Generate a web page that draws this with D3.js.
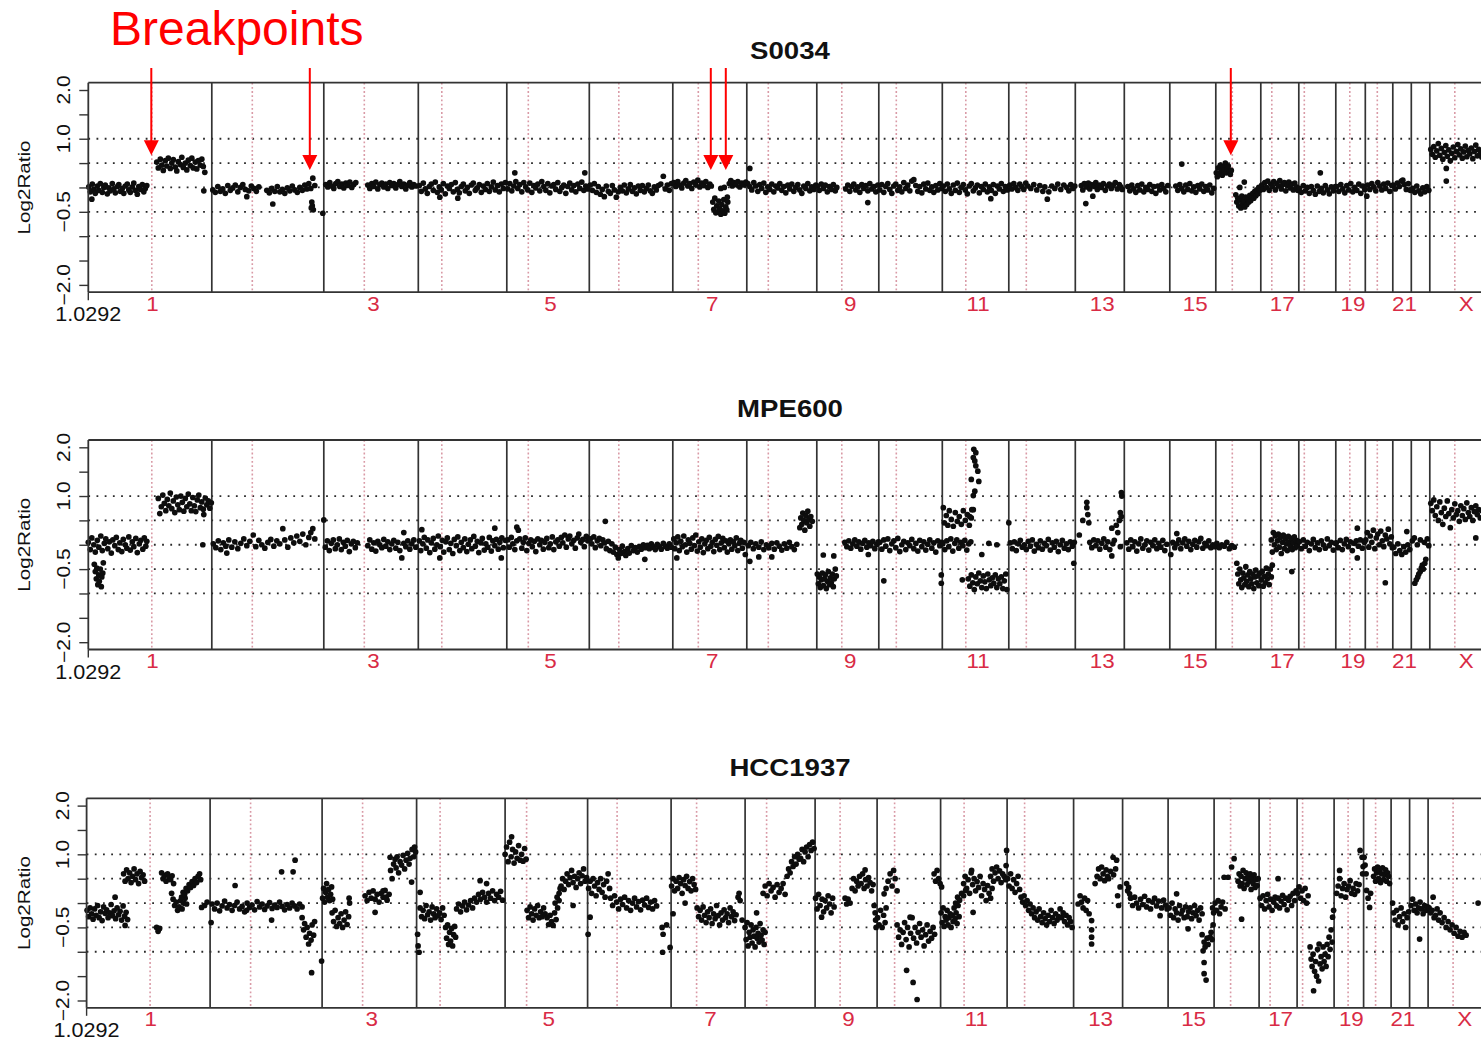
<!DOCTYPE html>
<html>
<head>
<meta charset="utf-8">
<script src="https://cdn.jsdelivr.net/npm/d3@7"></script>
<style>
  body { margin: 0; background: #fff; overflow: hidden; }
  svg { display: block; }
  text { font-family: "Liberation Sans", Arial, Helvetica, sans-serif; }
</style>
</head>
<body>
<svg id="chart" width="1481" height="1041"></svg>
<script>
// ---- genome layout -------------------------------------------------------
const CHROMOSOMES = ["1","2","3","4","5","6","7","8","9","10","11","12","13","14","15","16","17","18","19","20","21","22","X"];
// plotted chromosome widths (array coordinate units, ~Mb)
const CHROM_LENGTHS = [247,224,189,177,165,167,148,140,124,127,133,133,98,91,92,90,76,74,59,55,37,37,136];
// centromere offset inside each chromosome (null = acrocentric, sits on the boundary)
const CENTROMERES = [127,81,81,47,43,59,51,43,50,35,47,35,null,null,null,33,22,11,28,24,null,null,50];
const CHROM_LABELS = ["1","3","5","7","9","11","13","15","17","19","21","X"];

const Y_TICKS = [2, 1.5, 1, 0.5, 0, -0.5, -1, -1.5, -2];
const Y_TICK_LABELS = [[2, "2.0"], [1, "1.0"], [-0.5, "\u22120.5"], [-2, "\u22122.0"]];
const GRID_LEVELS = [1, 0.5, 0, -0.5, -1];
const X_START_LABEL = "1.0292";

const SAMPLES = ["S0034", "MPE600", "HCC1937"];

// ---- probe log2 ratios: one list per chromosome, [position in chromosome, log2 ratio]
const probesS0034 = [
  [[1,.01],[4,-.09],[8,.07],[11,-.04],[14,-.12],[18,.03],[21,-.06],[24,.08],[28,-.1],[31,0],[34,.05],[38,-.13],[41,-.01],[44,-.07],[48,.08],[51,-.03],[54,-.11],[58,.02],[61,.06],[64,-.08],[68,-.02],[71,-.12],[74,.03],[78,.07],[81,-.05],[84,-.1],[88,.01],[91,.09],[94,-.06],[98,-.14],[101,.02],[104,-.04],[108,.06],[111,-.09],[114,-.02],[117,.04],[7,-.24],[137,.52],[140,.4],[144,.58],[147,.46],[150,.35],[154,.55],[157,.44],[160,.6],[164,.39],[167,.5],[170,.57],[174,.42],[177,.34],[180,.53],[184,.47],[187,.62],[190,.41],[194,.5],[197,.36],[200,.56],[204,.45],[207,.6],[210,.4],[214,.52],[217,.38],[220,.55],[224,.46],[227,.58],[230,.43],[233,.31],[231,-.07]],
  [[2,-.05],[7,-.1],[12,.02],[17,-.08],[22,-.03],[27,-.12],[32,.04],[37,-.06],[42,-.01],[47,.05],[52,-.09],[57,0],[62,.06],[67,-.04],[74,-.07],[79,.03],[84,-.02],[89,-.08],[94,.01],[70,-.19],[110,-.06],[115,-.11],[120,-.02],[122,-.34],[126,-.08],[131,.02],[136,-.09],[141,-.04],[146,-.12],[151,-.01],[156,-.07],[161,.03],[166,-.05],[171,-.1],[176,0],[181,-.06],[186,.05],[190,-.03],[194,.08],[198,-.02],[200,-.3],[201,-.38],[203,-.46],[199,-.42],[202,.19],[206,.04],[222,-.53]],
  [[4,.06],[8,.01],[12,.1],[16,.03],[20,-.02],[24,.08],[28,.12],[32,.02],[36,.07],[40,-.01],[44,.09],[48,.04],[52,.11],[56,0],[60,.06],[64,.1],[88,.05],[92,-.02],[96,.08],[100,.02],[104,.11],[108,-.03],[112,.06],[116,.09],[120,.01],[124,.07],[128,-.02],[132,.1],[136,.04],[140,.08],[144,-.01],[148,.06],[152,.12],[156,.02],[160,.07],[164,-.03],[168,.05],[172,.1],[176,.01],[180,.06],[184,.03]],
  [[2,.04],[6,-.08],[10,.09],[14,-.03],[18,-.12],[22,.02],[26,.07],[30,-.06],[34,.11],[38,-.1],[42,.01],[46,-.05],[50,.08],[54,-.13],[58,.03],[62,-.02],[66,.06],[70,-.09],[74,.1],[78,-.04],[82,-.11],[86,.02],[90,.07],[94,-.07],[98,0],[102,-.12],[106,.05],[110,.09],[114,-.06],[118,-.01],[122,.06],[126,-.1],[130,.03],[134,-.04],[138,.08],[142,-.08],[146,.01],[150,.11],[154,-.05],[158,.04],[162,-.09],[166,.07],[170,-.02],[174,.1],[43,-.2],[79,-.22]],
  [[2,-.03],[6,.08],[10,-.07],[14,.03],[16,.3],[18,.12],[22,-.02],[26,.06],[30,-.09],[34,.1],[38,.01],[42,-.05],[46,.09],[50,-.1],[54,.04],[58,-.01],[62,.07],[66,-.07],[70,.12],[74,.02],[78,-.06],[82,.08],[86,-.11],[90,.03],[94,.06],[98,-.04],[102,.1],[106,-.08],[110,0],[114,.05],[118,-.12],[122,.02],[126,.09],[130,-.05],[134,.04],[138,-.09],[142,.07],[146,-.02],[150,.11],[154,-.06],[156,.3],[158,.03],[162,-.03]],
  [[2,.05],[6,-.06],[10,.08],[14,-.1],[18,.02],[22,-.14],[26,-.04],[30,-.19],[34,.03],[38,-.08],[42,-.12],[46,.04],[50,-.05],[54,-.2],[58,-.09],[62,0],[66,-.07],[70,.05],[74,-.11],[78,-.03],[82,.06],[86,-.08],[90,-.01],[94,-.13],[98,.03],[102,-.06],[106,.04],[110,-.09],[114,-.02],[118,.05],[122,-.07],[126,-.12],[130,.01],[134,-.05],[138,.04],[143,.07],[148,.23],[152,-.03],[156,.05],[160,-.06],[164,.08]],
  [[2,.1],[6,.02],[10,.12],[14,.05],[18,-.01],[22,.09],[26,.14],[30,.03],[34,.08],[38,-.02],[42,.11],[46,.06],[50,.15],[54,.01],[58,.09],[62,.04],[66,.12],[70,0],[74,.07],[77,.03],[80,-.3],[82,-.45],[84,-.22],[86,-.52],[88,-.38],[90,-.5],[92,-.28],[94,-.44],[96,-.55],[98,-.35],[100,-.48],[102,-.25],[104,-.53],[106,-.4],[108,-.46],[110,-.3],[96,-.02],[103,0],[109,-.2],[113,.08],[116,.14],[119,.03],[122,.1],[126,.06],[130,.12],[134,.01],[138,.09],[142,.05],[146,.11]],
  [[2,.08],[6,.39],[6,.02],[10,-.05],[14,.1],[18,.03],[22,-.08],[26,.06],[30,-.02],[34,.09],[38,-.1],[42,.01],[46,-.04],[50,.07],[54,-.09],[58,.03],[62,-.01],[66,.08],[70,-.06],[74,.02],[78,-.11],[82,.05],[86,-.03],[90,.07],[94,-.08],[98,0],[102,.06],[106,-.05],[110,-.12],[114,.03],[118,-.02],[122,.08],[126,-.07],[130,.01],[134,-.04],[138,.05]],
  [[1,.03],[5,-.06],[9,.07],[13,-.02],[17,.05],[21,-.09],[25,.02],[29,-.04],[33,.06],[37,-.07],[40,0],[58,-.03],[62,.05],[66,-.08],[70,.02],[74,.07],[78,-.05],[82,.01],[86,-.1],[90,.06],[94,-.02],[98,.04],[102,-.31],[102,-.07],[106,.08],[110,-.03],[114,.02],[118,-.09],[122,.05]],
  [[2,-.05],[6,.06],[10,-.1],[14,.02],[18,.08],[22,-.04],[26,-.12],[30,.03],[34,.07],[38,-.06],[42,.01],[46,-.09],[50,.1],[54,-.02],[58,.05],[62,-.07],[66,.13],[70,.16],[74,.04],[78,-.08],[82,.02],[86,-.11],[90,.07],[94,-.03],[98,.09],[102,-.06],[106,.01],[110,-.1],[114,.04],[118,-.05],[122,.08],[126,-.02]],
  [[2,.03],[6,-.08],[10,.07],[14,-.03],[18,-.12],[22,.05],[26,-.06],[30,.09],[34,-.1],[38,0],[42,.06],[46,-.05],[50,-.13],[54,.03],[58,.08],[62,-.07],[66,-.01],[70,.05],[74,-.11],[78,.02],[82,-.04],[86,.07],[90,-.09],[94,.01],[97,-.23],[98,-.06],[102,.06],[106,-.12],[110,.03],[114,-.03],[118,.08],[122,-.08],[126,.02],[130,-.05]],
  [[2,.05],[6,-.03],[10,.08],[14,0],[18,-.06],[22,.07],[26,.02],[30,-.04],[34,.09],[38,.03],[44,-.02],[50,.06],[56,-.05],[62,.04],[68,-.08],[72,.01],[77,-.24],[80,-.09],[86,.03],[92,-.02],[98,.07],[104,-.04],[110,.05],[116,0],[120,-.07],[124,.06],[128,-.02],[132,.03]],
  [[12,.04],[15,-.05],[18,.08],[21,-.33],[23,.01],[26,.09],[29,-.03],[32,.06],[35,-.18],[38,.02],[41,.1],[44,-.04],[48,.05],[52,0],[56,.08],[60,-.06],[64,.03],[68,.07],[72,-.02],[76,.05],[80,.1],[84,-.03],[88,.06],[91,.01],[94,-.04]],
  [[7,.02],[11,-.07],[15,.05],[19,-.03],[23,-.1],[27,.04],[31,-.05],[35,.07],[39,-.09],[43,0],[47,-.04],[51,.06],[55,-.08],[59,.02],[63,-.12],[67,.03],[71,-.05],[75,.06],[79,-.02],[83,-.09],[87,.04]],
  [[12,.03],[16,-.06],[20,.06],[24,.48],[24,-.02],[28,-.09],[32,.05],[36,-.04],[40,.08],[44,-.07],[48,.01],[52,-.1],[56,.04],[60,-.03],[64,.07],[68,-.08],[72,.02],[76,-.05],[80,.05],[84,-.11],[88,-.02]],
  [[1,.3],[3,.22],[5,.4],[7,.28],[9,.46],[11,.34],[13,.25],[15,.42],[17,.36],[19,.5],[21,.3],[23,.38],[25,.44],[27,.32],[29,.27],[31,.35],[48,0],[57,.11],[40,-.15],[42,-.3],[44,-.22],[46,-.38],[48,-.26],[50,-.42],[52,-.18],[54,-.33],[56,-.28],[58,-.4],[60,-.2],[62,-.35],[64,-.24],[66,-.3],[68,-.16],[70,-.27],[72,-.2],[74,-.12],[76,-.22],[78,-.08],[80,-.17],[82,-.05],[84,-.13],[86,0],[88,-.06]],
  [[2,.05],[5,-.04],[8,.1],[11,0],[14,.13],[17,-.06],[20,.07],[23,.02],[26,.12],[29,-.05],[32,.08],[35,.03],[38,.14],[41,-.03],[44,.06],[47,.1],[50,-.07],[53,.04],[56,.11],[59,-.01],[62,.07],[65,-.05],[68,.09],[71,.01],[74,-.06]],
  [[1,-.02],[5,-.1],[9,.04],[13,-.07],[17,0],[21,-.12],[25,.02],[29,-.06],[33,-.14],[37,.03],[41,-.08],[43,.3],[45,-.02],[49,-.11],[53,.04],[57,-.05],[61,-.13],[65,.01],[69,-.07],[73,.02]],
  [[2,.02],[6,-.08],[10,.06],[14,-.03],[18,-.11],[22,.04],[26,-.05],[30,.08],[34,-.09],[38,0],[42,-.06],[46,.07],[50,-.12],[54,.03],[58,-.04]],
  [[3,-.18],[5,.05],[9,-.04],[13,.08],[17,.01],[21,-.07],[25,.1],[29,.03],[33,-.05],[37,.07],[41,-.02],[45,.09],[49,-.08],[53,.04]],
  [[1,.05],[5,-.03],[9,.09],[13,.02],[17,.13],[20,.15],[23,.06],[27,-.04],[31,.08],[35,-.06]],
  [[3,-.02],[7,-.1],[11,.03],[15,-.07],[19,-.13],[23,-.01],[27,-.09],[31,.02],[35,-.06]],
  [[2,.78],[5,.68],[8,.84],[11,.62],[14,.75],[17,.9],[20,.66],[23,.8],[26,.58],[29,.72],[32,.86],[33,.39],[33,.13],[35,.64],[38,.77],[41,.55],[44,.7],[47,.83],[50,.61],[53,.74],[56,.88],[59,.67],[62,.79],[65,.6],[68,.73],[71,.85],[74,.63],[77,.76],[80,.69],[83,.81],[86,.59],[89,.74],[92,.87],[95,.65],[98,.78],[101,.7],[104,.62],[108,.75]]
];

const probesMPE600 = [
  [[0,.05],[4,-.1],[7,.14],[11,0],[14,-.15],[18,.09],[21,-.05],[25,.18],[28,-.12],[32,.03],[35,.12],[39,-.08],[42,.06],[46,-.17],[49,.1],[53,-.02],[56,.15],[60,-.1],[63,.04],[67,-.14],[70,.11],[74,0],[77,-.07],[81,.16],[84,-.11],[88,.06],[91,-.04],[95,.13],[98,-.16],[102,.02],[105,.09],[109,-.09],[112,.14],[115,-.03],[117,.07],[12,-.4],[14,-.55],[16,-.7],[17,-.48],[19,-.82],[21,-.62],[22,-.75],[24,-.5],[26,-.86],[27,-.66],[29,-.58],[30,-.37],[140,.95],[143,.64],[146,.78],[149,1.02],[152,.85],[155,.7],[158,.93],[161,.8],[164,1.06],[167,.74],[170,.9],[173,.66],[176,.98],[179,.82],[182,.72],[185,1],[188,.87],[191,.69],[194,.95],[197,.78],[200,1.04],[203,.84],[206,.7],[209,.97],[212,.8],[215,.68],[218,.92],[221,1.02],[224,.76],[227,.88],[230,.73],[231,.62],[234,.96],[237,.82],[240,.9],[243,.75],[246,.86],[229,0]],
  [[3,.02],[8,-.06],[13,.08],[18,-.1],[23,.04],[28,-.03],[30,-.17],[34,.1],[40,-.05],[46,.06],[52,-.08],[58,.03],[64,.12],[70,-.02],[76,.07],[83,.2],[88,-.04],[94,.09],[100,0],[106,-.07],[112,.05],[118,.11],[124,-.03],[130,.08],[136,.02],[142,.33],[146,.1],[152,-.05],[158,.14],[164,.04],[170,.18],[176,.07],[182,.22],[188,0],[194,.15],[198,.25],[202,.33],[206,.12]],
  [[0,.51],[3,-.05],[7,.08],[11,-.12],[15,.03],[19,.1],[23,-.08],[27,0],[31,.12],[35,-.1],[39,.05],[43,-.03],[47,.09],[51,-.14],[55,.02],[59,.07],[63,-.06],[67,.04],[88,-.02],[92,.1],[96,-.09],[100,.04],[104,-.13],[108,.07],[112,0],[116,-.06],[120,.11],[124,-.03],[128,.06],[132,-.1],[136,.02],[140,.09],[144,-.07],[148,.05],[152,-.12],[156,-.27],[160,.25],[160,.03],[164,-.04],[168,.08],[172,-.09],[176,.02],[180,.1],[184,-.05]],
  [[2,.08],[5,-.12],[7,.31],[9,.02],[12,.15],[16,-.07],[19,.1],[23,-.16],[26,.04],[30,.13],[33,-.09],[37,0],[40,.18],[43,-.27],[44,-.04],[48,.09],[51,-.15],[55,.06],[58,.14],[62,-.1],[65,.03],[69,-.18],[72,.11],[76,-.02],[79,.16],[83,-.12],[86,.05],[90,-.06],[93,.12],[97,-.14],[100,.01],[104,.1],[107,-.08],[111,.17],[114,-.03],[118,.07],[121,-.16],[125,.04],[128,.13],[132,-.11],[135,.02],[139,-.05],[142,.15],[146,-.13],[149,.08],[153,.34],[153,-.02],[156,.11],[160,-.09],[163,.05],[166,-.27],[167,.14],[170,-.06],[174,.09]],
  [[2,.1],[5,-.05],[9,.15],[12,.02],[16,-.1],[20,.36],[23,.3],[20,.08],[26,.12],[30,-.07],[33,.05],[37,.14],[40,-.12],[44,.03],[48,.1],[51,-.04],[55,.07],[58,-.14],[62,.12],[66,0],[69,.09],[73,-.09],[76,.05],[80,.13],[84,-.06],[87,.02],[91,.16],[94,-.1],[98,.06],[102,.1],[105,-.03],[109,.15],[112,.04],[116,.2],[119,-.05],[123,.12],[126,.18],[130,.02],[134,.09],[137,-.07],[141,.14],[144,.22],[148,.05],[152,.11],[155,-.04],[159,.17],[162,.08]],
  [[2,.12],[5,.02],[9,.16],[12,-.06],[16,.08],[20,.13],[23,-.02],[27,.1],[32,.48],[30,.04],[34,-.08],[38,.07],[41,-.12],[45,.02],[48,-.15],[52,-.05],[55,-.2],[58,-.27],[60,-.1],[63,-.18],[66,-.03],[70,-.14],[73,-.22],[77,-.08],[80,-.17],[84,-.02],[88,-.12],[92,-.06],[96,-.15],[100,-.04],[104,-.09],[108,0],[111,-.3],[112,-.06],[116,-.01],[120,-.08],[124,.02],[128,-.05],[132,-.1],[136,.01],[140,-.04],[144,-.09],[148,.03],[152,-.03],[156,-.07],[160,.02],[164,-.05]],
  [[2,.12],[4,-.08],[8,-.27],[7,.04],[10,.16],[13,-.12],[16,.07],[19,-.04],[22,.18],[25,0],[28,-.15],[31,.1],[34,.03],[37,-.09],[40,.14],[43,-.02],[46,.2],[49,-.13],[52,.06],[55,-.05],[58,.12],[61,-.16],[64,.02],[67,.09],[70,-.08],[73,.15],[76,-.03],[79,.05],[82,-.14],[85,.11],[88,-.01],[91,.17],[94,-.1],[97,.04],[100,.13],[103,-.06],[106,.08],[109,-.15],[112,.02],[115,.1],[118,-.09],[121,.06],[124,-.02],[127,.14],[130,-.12],[133,.03],[136,.09],[139,-.07],[142,.05],[145,-.2]],
  [[3,-.02],[6,-.34],[8,.05],[13,-.08],[18,.02],[24,-.25],[24,-.05],[29,.06],[34,-.1],[39,0],[44,-.06],[50,-.25],[50,.03],[55,-.09],[60,.04],[65,-.03],[70,-.11],[75,.02],[80,-.07],[85,.05],[90,-.04],[95,-.1],[100,.01],[106,.35],[108,.55],[110,.42],[112,.65],[114,.5],[116,.3],[118,.6],[120,.45],[122,.69],[124,.52],[126,.38],[128,.58],[131,.48]],
  [[1,-.6],[3,-.8],[5,-.66],[7,-.88],[9,-.72],[11,-.58],[13,-.84],[15,-.7],[17,-.62],[19,-.9],[21,-.75],[23,-.55],[25,-.82],[27,-.68],[29,-.78],[31,-.6],[33,-.86],[35,-.7],[37,-.5],[39,-.64],[13,-.21],[34,-.23],[56,.05],[60,-.04],[64,.08],[68,-.07],[72,.02],[76,.1],[80,-.03],[84,.06],[88,-.09],[92,.03],[96,.09],[100,-.05],[103,-.2],[104,.04],[108,-.02],[112,.07],[116,-.08],[120,.01],[123,.06]],
  [[2,.05],[6,-.09],[10,-.74],[10,.1],[14,-.03],[18,.12],[22,-.12],[26,.02],[30,.08],[34,-.06],[38,.13],[42,-.14],[46,0],[50,.07],[54,-.1],[58,.04],[62,-.02],[66,.11],[70,-.08],[74,.03],[78,-.13],[82,.09],[86,-.04],[90,.06],[94,-.11],[98,.01],[102,.1],[106,-.07],[110,.04],[114,-.15],[118,.08],[122,-.02],[126,.05],[125,-.62],[125,-.79]],
  [[1,.02],[5,-.1],[9,.08],[13,-.04],[17,.12],[21,-.13],[25,.03],[29,.1],[33,-.07],[37,.05],[41,-.02],[45,.09],[49,-.11],[53,.02],[57,.06],[2,.76],[4,.45],[8,.6],[11,.4],[14,.7],[18,.52],[22,.38],[26,.66],[30,.48],[34,.58],[38,.42],[42,.7],[46,.5],[50,.62],[54,.4],[58,.55],[62,.72],[63,1.96],[67,1.89],[62,1.79],[65,1.72],[67,1.62],[71,1.51],[58,1.34],[73,1.3],[65,1.1],[62,1.01],[59,.72],[55,.58],[52,-.7],[55,-.85],[58,-.62],[61,-.78],[64,-.92],[67,-.66],[70,-.8],[73,-.58],[76,-.74],[79,-.88],[82,-.64],[85,-.76],[88,-.9],[91,-.6],[94,-.72],[97,-.84],[100,-.68],[103,-.79],[106,-.62],[109,-.88],[112,-.7],[115,-.8],[118,-.66],[121,-.9],[124,-.74],[127,-.6],[129,-.92],[40,-.72],[79,-.2],[93,.03],[109,0]],
  [[0,.45],[3,.04],[7,-.08],[11,.06],[15,-.12],[19,.02],[23,.09],[27,-.05],[31,0],[35,-.1],[39,.07],[43,-.03],[47,.1],[51,-.13],[55,.01],[59,-.06],[63,.08],[67,-.09],[71,.03],[75,-.02],[79,.11],[83,-.11],[87,.04],[91,-.05],[95,.07],[99,-.14],[103,0],[107,.09],[111,-.07],[115,.02],[119,-.1],[123,.06],[127,-.03],[130,-.38],[131,.05]],
  [[8,.2],[15,.5],[23,.87],[23,.76],[25,.62],[27,.45],[29,.05],[33,-.06],[37,.1],[41,-.02],[45,.08],[49,-.09],[53,.03],[57,.12],[61,-.05],[65,.06],[69,-.1],[73,-.23],[73,.34],[75,.02],[78,.09],[82,.4],[85,.25],[88,.5],[90,.66],[92,.58],[92,1.07],[93,1],[90,-.04]],
  [[5,.04],[9,-.09],[13,.1],[17,-.04],[21,.06],[25,-.13],[29,.02],[33,.12],[37,-.07],[41,0],[45,.08],[49,-.11],[53,.05],[57,-.02],[61,.1],[65,-.08],[69,.03],[73,-.05],[77,.09],[81,-.12],[85,.01]],
  [[2,-.2],[6,.05],[10,-.06],[14,.23],[14,.02],[18,.1],[22,-.08],[26,.04],[30,.12],[34,-.03],[38,.07],[42,-.1],[46,.01],[50,.09],[54,-.05],[58,.06],[62,.13],[66,-.07],[70,.03],[74,-.02],[78,.08],[82,-.06],[86,0],[90,-.04]],
  [[2,.03],[7,-.06],[12,0],[17,-.03],[22,.05],[27,-.08],[32,-.02],[37,-.05],[42,-.38],[44,-.6],[46,-.8],[48,-.5],[50,-.72],[52,-.88],[54,-.58],[56,-.68],[58,-.82],[60,-.45],[62,-.75],[64,-.62],[66,-.86],[68,-.55],[70,-.7],[72,-.8],[74,-.6],[76,-.9],[78,-.66],[80,-.52],[82,-.78],[84,-.64],[86,-.84],[88,-.58]],
  [[1,-.72],[3,-.55],[5,-.85],[7,-.65],[9,-.78],[11,-.48],[13,-.7],[15,-.6],[17,-.82],[19,-.5],[21,-.66],[23,-.42],[21,.1],[23,-.15],[25,.25],[27,0],[29,.18],[31,-.1],[33,.08],[35,.22],[37,-.05],[39,.15],[41,-.18],[43,.05],[45,.2],[47,-.08],[49,.12],[51,.02],[53,-.12],[55,.17],[57,.06],[59,-.03],[61,.13],[62,-.55],[63,-.1],[65,.04],[67,.16],[69,-.06],[71,.09],[73,-.02],[75,.07]],
  [[1,.06],[5,-.08],[9,.1],[13,-.03],[17,.05],[21,-.12],[25,.02],[29,.11],[33,-.06],[37,.04],[41,-.1],[45,.08],[49,0],[53,-.07],[57,.12],[61,-.02],[65,.05],[69,-.11],[73,.03]],
  [[1,.04],[5,-.06],[9,.09],[13,-.1],[17,.02],[21,.11],[25,-.04],[29,.06],[33,-.12],[37,.03],[41,.08],[43,.34],[43,-.27],[45,-.03],[49,.1],[53,-.07],[57,.05]],
  [[1,.1],[4,.25],[7,-.05],[10,.18],[13,.05],[16,.3],[19,-.08],[22,.14],[25,.22],[28,0],[31,.28],[34,.08],[37,-.04],[40,-.78],[40,.2],[43,.12],[46,.32],[49,.02],[52,.16],[54,-.06]],
  [[2,-.05],[6,-.18],[10,.02],[14,-.12],[18,-.2],[22,-.04],[26,-.15],[28,.27],[30,0],[34,-.1]],
  [[2,.08],[6,.14],[12,0],[18,.1],[26,.05],[32,.12],[35,-.02],[7,-.79],[10,-.72],[13,-.66],[15,-.6],[18,-.55],[20,-.48],[22,-.42],[24,-.5],[27,-.38],[29,-.3]],
  [[2,.85],[5,.7],[8,.92],[11,.6],[14,.78],[17,.5],[20,.88],[23,.66],[26,.42],[29,.75],[32,.58],[35,.9],[38,.64],[41,.35],[44,.72],[47,.55],[50,.84],[53,.62],[56,.7],[59,.48],[62,.8],[65,.6],[68,.74],[71,.52],[74,.86],[77,.66],[80,.58],[83,.76],[86,.5],[89,.68],[92,.14],[92,.8],[95,.62],[98,.72],[101,.55],[104,.7]]
];

const probesHCC1937 = [
  [[1,-.15],[4,-.28],[7,-.1],[10,-.22],[13,-.33],[16,-.12],[19,-.25],[22,-.05],[25,-.3],[28,-.18],[31,-.36],[34,-.08],[37,-.21],[40,-.14],[43,-.3],[46,-.2],[49,-.03],[52,-.26],[55,-.16],[57,.12],[58,-.32],[61,-.1],[64,-.24],[67,-.17],[70,-.35],[73,-.06],[76,-.27],[79,-.19],[82,-.34],[77,-.46],[74,.6],[77,.45],[80,.68],[83,.5],[86,.62],[89,.42],[92,.55],[95,.7],[98,.48],[101,.6],[104,.4],[107,.65],[110,.52],[113,.58],[116,.45],[140,-.5],[143,-.58],[146,-.52],[150,.62],[153,.5],[156,.57],[159,.45],[162,.6],[165,.52],[168,.48],[171,.56],[174,.4],[170,.2],[173,.08],[176,-.05],[179,.02],[182,-.15],[185,-.08],[188,.05],[191,-.12],[194,0],[197,.1],[200,-.02],[190,.12],[193,.22],[196,.18],[199,.3],[202,.25],[205,.38],[208,.32],[211,.44],[214,.36],[217,.5],[220,.42],[223,.55],[226,.6],[228,.48],[230,-.09],[236,-.05],[241,.02]],
  [[2,-.4],[4,-.02],[9,-.12],[14,0],[19,-.16],[24,-.06],[29,.04],[34,-.1],[39,-.03],[44,-.15],[50,.36],[49,-.05],[54,.02],[59,-.12],[64,-.07],[69,-.18],[73,-.15],[74,0],[79,-.09],[84,-.04],[89,-.14],[94,.03],[99,-.08],[104,-.02],[109,-.13],[114,-.06],[119,.01],[124,-.11],[123,-.35],[129,-.04],[134,-.09],[139,.02],[143,.64],[144,-.07],[149,-.14],[154,-.03],[159,-.1],[164,0],[166,.64],[170,.88],[169,-.06],[174,-.12],[179,-.02],[184,-.08],[184,-.3],[187,-.55],[189,-.42],[192,-.7],[194,-.5],[197,-.84],[199,-.62],[202,-.76],[204,-.45],[207,-.66],[209,-.38],[203,-1.43],[223,-1.19]],
  [[1,.1],[3,.3],[5,.02],[7,.22],[9,.4],[11,.12],[13,.28],[15,.05],[17,.18],[19,.33],[21,.08],[20,-.2],[23,-.38],[26,-.15],[29,-.48],[32,-.3],[35,-.42],[38,-.22],[41,-.5],[44,-.35],[47,-.18],[50,-.44],[53,-.28],[55,0],[54,.1],[86,.15],[90,.05],[94,.22],[98,.1],[102,.25],[106,.08],[106,-.19],[110,.18],[114,.02],[118,.2],[122,.12],[126,.26],[130,.06],[134,.18],[122,.25],[128,.12],[136,.94],[137,.67],[140,.5],[143,.8],[146,.9],[148,.72],[150,.95],[153,.62],[156,.85],[159,.78],[162,.98],[165,.7],[168,.88],[171,1.02],[174,.8],[176,.92],[179,.43],[180,1.1],[183,.95],[185,1.15],[187,1.05]],
  [[2,-.64],[3,-.88],[5,-1.01],[7,-.1],[7,.22],[10,-.28],[13,-.15],[16,-.32],[19,-.05],[22,-.24],[25,-.18],[28,-.35],[31,-.08],[34,-.22],[37,-.3],[40,-.12],[43,-.26],[46,-.2],[49,-.34],[52,-.1],[55,-.25],[58,-.5],[60,-.72],[62,-.45],[64,-.85],[66,-.6],[68,-.78],[70,-.52],[72,-.88],[74,-.65],[76,-.48],[78,-.7],[80,-.12],[84,-.02],[88,-.18],[92,-.06],[96,.02],[100,-.14],[104,-.04],[108,.05],[112,-.1],[116,.1],[120,.02],[124,.18],[127,.46],[128,.08],[132,.22],[136,.12],[140,.4],[140,.02],[144,.2],[148,.1],[152,.25],[156,.05],[160,.18],[164,.12],[168,.24],[172,.06]],
  [[0,1],[3,1.15],[6,.85],[9,1.25],[12,.95],[13,1.36],[15,1.1],[18,.82],[21,1.05],[24,.92],[27,1.18],[30,.88],[33,1],[36,.86],[39,1.12],[42,.9],[44,-.15],[47,-.3],[50,-.08],[53,-.22],[56,-.35],[59,-.12],[62,-.25],[65,-.05],[68,-.3],[71,-.18],[74,-.28],[77,-.1],[80,-.22],[84,-.3],[87,-.44],[90,-.25],[93,-.38],[96,-.46],[99,-.2],[102,-.34],[105,-.1],[108,.05],[100,0],[104,.12],[108,.2],[110,.3],[112,.35],[115,.5],[118,.28],[121,.45],[124,.6],[127,.38],[130,.52],[133,.67],[136,.42],[139,.55],[142,.32],[145,.5],[148,.62],[151,.4],[154,.56],[157,.7],[160,.45],[163,.52],[136,-.05]],
  [[1,-.64],[5,-.29],[2,.3],[5,.45],[8,.2],[11,.5],[14,.35],[17,.15],[20,.42],[23,.28],[26,.5],[29,.22],[32,.38],[35,.12],[38,.45],[41,.6],[44,.3],[46,.1],[50,-.05],[54,.15],[58,.02],[62,-.12],[66,.08],[70,-.03],[74,.12],[78,-.1],[82,.05],[86,-.15],[90,0],[94,.1],[98,-.08],[102,.03],[106,-.14],[110,.06],[114,-.04],[118,.1],[122,-.09],[126,.02],[130,-.12],[134,.05],[138,-.06],[149,-.5],[151,-.64],[150,-1.01],[165,-.91],[158,-.45]],
  [[1,.35],[4,.5],[7,.25],[10,.45],[13,.3],[16,.52],[19,.4],[22,.2],[25,.48],[28,.36],[31,.55],[34,.3],[37,.44],[40,.25],[43,.5],[46,.38],[49,.28],[4,-.22],[28,0],[52,-.1],[55,-.28],[58,-.15],[61,-.35],[64,-.08],[67,-.25],[70,-.4],[73,-.18],[76,-.3],[79,-.12],[82,-.42],[85,-.22],[88,-.32],[91,-.05],[94,-.26],[97,-.45],[100,-.2],[103,-.35],[106,-.14],[109,-.3],[112,-.22],[115,-.4],[118,-.1],[121,-.28],[124,-.18],[127,-.36],[130,-.24],[134,.12],[136,.2],[138,.05],[142,-.35]],
  [[0,-.5],[2,-.75],[4,-.4],[6,-.88],[8,-.6],[10,-.7],[12,-.45],[14,-.82],[16,-.55],[18,-.68],[20,-.9],[22,-.5],[24,-.72],[26,-.62],[28,-.8],[30,-.42],[32,-.66],[34,-.76],[36,-.55],[38,-.85],[40,-.6],[23,-.2],[36,.2],[40,.35],[44,.15],[48,.4],[52,.25],[56,.32],[60,.12],[64,.38],[68,.22],[72,.3],[76,.4],[80,.18],[84,.55],[87,.7],[90,.62],[93,.85],[96,.75],[99,.95],[102,.8],[105,1],[108,.9],[111,.92],[114,1.1],[117,.85],[120,1.05],[123,1.15],[126,.95],[129,1.2],[132,1.08],[135,1.25],[138,1.12]],
  [[1,.1],[4,-.12],[7,.18],[10,-.05],[13,-.29],[14,.08],[17,-.18],[20,.05],[23,-.1],[26,.15],[29,-.02],[32,-.2],[35,.1],[38,-.08],[60,.1],[63,-.02],[66,.08],[70,0],[74,.3],[77,.5],[80,.25],[83,.45],[86,.35],[89,.55],[92,.4],[95,.6],[98,.3],[100,.68],[101,.48],[104,.35],[107,.52],[110,.42],[113,.25],[116,.38],[118,-.05],[120,-.2],[121,-.35],[122,-.5]],
  [[1,-.3],[4,-.45],[7,-.15],[10,-.5],[13,-.25],[16,-.4],[18,-.1],[14,.19],[18,.3],[22,.45],[26,.6],[30,.35],[33,.67],[36,.5],[40,.25],[40,-.45],[43,-.7],[46,-.55],[49,-.85],[52,-.6],[55,-.4],[58,-.75],[61,-.5],[64,-.9],[67,-.62],[70,-.3],[73,-.72],[76,-.5],[79,-.82],[82,-.6],[85,-.42],[88,-.7],[91,-.55],[94,-.88],[97,-.65],[100,-.45],[103,-.78],[106,-.58],[109,-.72],[112,-.5],[115,-.64],[59,-1.38],[72,-1.63],[80,-1.98],[66,-.29],[114,.6],[117,.45],[120,.67],[123,.5],[126,.4]],
  [[2,.33],[1,-.2],[3,-.4],[5,-.1],[7,-.48],[9,-.28],[11,-.35],[13,-.15],[15,-.45],[17,-.3],[19,-.22],[21,-.5],[23,-.25],[25,-.38],[27,-.1],[29,-.32],[31,-.2],[33,-.42],[35,-.05],[37,-.28],[30,0],[34,.12],[38,.06],[42,.2],[46,.15],[50,.26],[46,.4],[49,.55],[52,.3],[55,.48],[58,.2],[61,.62],[62,.67],[64,.38],[65,-.19],[67,.5],[70,.25],[73,.44],[76,.32],[79,.55],[82,.15],[85,.4],[88,.28],[91,.05],[94,.36],[97,.2],[100,.1],[103,.3],[100,.55],[103,.7],[106,.45],[109,.62],[112,.74],[115,.5],[118,.66],[121,.42],[124,.6],[127,.55],[130,.48],[132,1.08],[131,.77]],
  [[1,.5],[4,.35],[7,.6],[10,.3],[13,.48],[16,.22],[19,.4],[22,.55],[25,.28],[28,.12],[31,.02],[34,.15],[37,-.05],[40,.05],[43,-.15],[46,-.02],[49,-.22],[52,-.1],[55,-.3],[58,-.18],[61,-.35],[64,-.12],[67,-.28],[70,-.4],[73,-.2],[76,-.32],[79,-.45],[82,-.25],[85,-.38],[88,-.15],[91,-.3],[94,-.42],[97,-.22],[100,-.35],[103,-.28],[106,-.12],[109,-.3],[112,-.2],[115,-.38],[118,-.25],[121,-.45],[124,-.3],[127,-.38],[130,-.5]],
  [[9,-.02],[13,.15],[16,.02],[19,-.1],[22,.1],[25,-.15],[28,.05],[31,-.22],[36,-.36],[36,-.55],[36,-.7],[36,-.84],[43,.4],[47,.55],[50,.7],[53,.5],[56,.74],[59,.6],[62,.46],[65,.68],[68,.55],[70,.5],[74,.65],[79,.94],[86,.88],[88,.15],[90,-.05],[93,.33],[80,.58],[84,.7]],
  [[8,.4],[10,.25],[14,.19],[12,.32],[16,.1],[20,-.05],[24,.12],[28,0],[32,-.1],[36,.08],[40,-.03],[44,.14],[48,-.08],[52,.05],[56,-.12],[60,.02],[64,.1],[68,-.06],[72,.04],[75,-.26],[78,-.1],[82,.06],[86,-.04],[89,-.12]],
  [[2,-.1],[5,-.25],[8,0],[11,-.3],[14,-.12],[17,.19],[17,-.2],[20,-.35],[23,-.05],[26,-.22],[29,-.15],[32,-.3],[35,-.08],[38,-.28],[40,-.53],[41,-.18],[44,-.1],[47,-.32],[50,-.2],[53,-.05],[56,-.26],[59,-.15],[62,-.35],[65,-.1],[68,-.22],[68,-.65],[70,-.98],[72,-.8],[72,-1.22],[72,-1.45],[76,-1.58],[74,-.9],[78,-.72],[80,-.85],[84,-.7],[86,-.6],[88,-.75],[90,-.45],[91,-.2],[89,-.1]],
  [[2,0],[5,-.15],[8,.05],[11,-.22],[14,-.08],[17,.02],[20,.53],[22,-.12],[28,.53],[35,.74],[40,.91],[55,-.33],[48,.45],[50,.6],[52,.35],[54,.55],[56,.4],[58,.67],[60,.3],[62,.5],[64,.62],[66,.38],[68,.55],[70,.45],[72,.6],[74,.28],[76,.5],[78,.4],[80,.58],[82,.32],[84,.48],[86,.36],[88,.5]],
  [[2,.1],[5,-.05],[8,.15],[11,-.12],[14,.05],[17,.18],[20,-.08],[23,.08],[26,-.15],[29,.02],[32,.12],[35,-.06],[38,.5],[38,.1],[41,-.1],[44,.04],[47,.16],[50,-.03],[53,.1],[56,-.14],[59,.06],[62,.14],[65,-.05],[68,.2],[71,.05],[74,.25]],
  [[1,.2],[4,.33],[7,.1],[10,.25],[13,.05],[16,.3],[19,0],[22,.15],[26,-.9],[28,-1.15],[30,-1.3],[32,-1.05],[33,-1.8],[35,-1.4],[37,-1.2],[39,-1.5],[41,-.95],[43,-1.6],[44,-.84],[46,-1.25],[48,-1.1],[50,-1.35],[52,-.9],[54,-1.2],[56,-1.05],[58,-1.3],[60,-.85],[62,-1.1],[64,-.7],[66,-.95],[68,-.55],[70,-.8],[71,-.29],[73,-.15]],
  [[11,.67],[11,.5],[32,.46],[5,.2],[8,.35],[14,.15],[17,.3],[20,.4],[23,.12],[26,.28],[29,.35],[35,.2],[38,.3],[41,.18],[44,.4],[47,.25],[50,.38],[52,1.08],[56,.94],[58,.75],[57,.6]],
  [[1,.94],[3,.78],[5,.6],[6,.26],[9,.1],[12,-.09],[14,.2],[20,.55],[22,.7],[24,.45],[26,.62],[28,.74],[30,.5],[32,.66],[34,.42],[36,.6],[38,.72],[40,.48],[42,.58],[44,.68],[46,.45],[48,.62],[50,.55],[52,.4]],
  [[3,0],[5,-.2],[8,-.35],[11,-.15],[14,-.45],[17,-.28],[20,-.1],[23,-.38],[26,-.22],[29,-.5],[32,-.3],[35,-.18]],
  [[6,.08],[3,-.05],[9,-.15],[12,-.02],[15,-.2],[18,-.1],[20,-.74],[21,.02],[24,-.12],[27,-.22],[30,-.05],[33,-.15],[36,-.08]],
  [[10,.12],[2,-.1],[5,-.2],[8,-.15],[12,-.3],[15,-.25],[18,-.12],[21,-.35],[24,-.2],[28,-.4],[32,-.3],[36,-.5],[40,-.38],[44,-.55],[48,-.45],[52,-.62],[56,-.5],[60,-.68],[64,-.58],[68,-.7],[72,-.6],[76,-.66],[100,0]]
];

// breakpoints marked on the first sample: [chromosome, position, log2 level of arrow tip]
const BREAKPOINTS = [["1",126,0.66],["2",196,0.36],["7",76,0.36],["7",106,0.36],["16",30,0.66]];

// ---- drawing -----------------------------------------------------------------
const svg = d3.select("#chart");
const genomeTotal = d3.sum(CHROM_LENGTHS);
const chromStart = Array.from(d3.cumsum(CHROM_LENGTHS), (c, i) => c - CHROM_LENGTHS[i]);
const chromIndex = new Map(CHROMOSOMES.map((c, i) => [c, i]));

const PLOT_H = 209.5;
const PX_PER_UNIT = 0.5;
const RED = "#d92b45";

const panels = [
  { title: SAMPLES[0], probes: probesS0034,  top: 82.7,  left: 88.3, titleY: 59 },
  { title: SAMPLES[1], probes: probesMPE600, top: 440,   left: 88.3, titleY: 417 },
  { title: SAMPLES[2], probes: probesHCC1937, top: 798.3, left: 86.6, titleY: 776 }
];

panels.forEach((p, pi) => {
  const x = d3.scaleLinear().domain([0, genomeTotal])
    .range([p.left, p.left + genomeTotal * PX_PER_UNIT]);
  const y = d3.scaleLinear().domain([-2.15, 2.15]).range([p.top + PLOT_H, p.top]);
  const right = x.range()[1];
  const bottom = p.top + PLOT_H;
  const g = svg.append("g").attr("class", "panel");

  // dotted reference levels
  g.append("g").selectAll("line").data(GRID_LEVELS).join("line")
    .attr("x1", p.left).attr("x2", right)
    .attr("y1", d => y(d)).attr("y2", d => y(d))
    .attr("stroke", "#2a2a2a").attr("stroke-width", 1.8)
    .attr("stroke-dasharray", "1.8,6.4");

  // centromere positions
  const cen = CENTROMERES.map((c, i) => c == null ? null : chromStart[i] + c).filter(v => v != null);
  g.append("g").selectAll("line").data(cen).join("line")
    .attr("x1", d => x(d)).attr("x2", d => x(d))
    .attr("y1", p.top).attr("y2", bottom)
    .attr("stroke", "#d99aa6").attr("stroke-width", 1.6)
    .attr("stroke-dasharray", "1.8,2.4");

  // chromosome boundaries
  g.append("g").selectAll("line").data(chromStart.slice(1)).join("line")
    .attr("x1", d => x(d)).attr("x2", d => x(d))
    .attr("y1", p.top).attr("y2", bottom)
    .attr("stroke", "#333").attr("stroke-width", 1.7);

  // probes
  const pts = [];
  p.probes.forEach((list, ci) => list.forEach(([pos, v]) => pts.push({ g: chromStart[ci] + pos, v })));
  g.append("g").selectAll("circle").data(pts).join("circle")
    .attr("cx", d => x(d.g)).attr("cy", d => y(d.v)).attr("r", 2.85)
    .attr("fill", "#0d0d0d");

  // frame
  g.append("line").attr("x1", p.left).attr("x2", right).attr("y1", p.top).attr("y2", p.top)
    .attr("stroke", "#333").attr("stroke-width", 1.8);
  g.append("line").attr("x1", p.left).attr("x2", right).attr("y1", bottom).attr("y2", bottom)
    .attr("stroke", "#333").attr("stroke-width", 1.8);
  g.append("line").attr("x1", p.left).attr("x2", p.left).attr("y1", p.top).attr("y2", bottom)
    .attr("stroke", "#333").attr("stroke-width", 1.8);
  g.append("line").attr("x1", p.left).attr("x2", p.left).attr("y1", bottom).attr("y2", bottom + 8)
    .attr("stroke", "#333").attr("stroke-width", 1.4);

  // y axis ticks
  const axis = g.append("g").attr("transform", `translate(${p.left},0)`)
    .call(d3.axisLeft(y).tickValues(Y_TICKS).tickSize(9).tickSizeOuter(0).tickFormat(""));
  axis.select(".domain").remove();
  axis.selectAll(".tick line").attr("stroke", "#333").attr("stroke-width", 1.4);

  // y tick labels (rotated)
  g.append("g").selectAll("text").data(Y_TICK_LABELS).join("text")
    .attr("transform", d => `translate(${p.left - 18},${y(d[0])}) rotate(-90) scale(1.2,1)`)
    .attr("text-anchor", "middle").attr("font-size", 17.5).attr("fill", "#111")
    .text(d => d[1]);

  g.append("text")
    .attr("transform", `translate(30,${y(0)}) rotate(-90) scale(1.25,1)`)
    .attr("text-anchor", "middle").attr("font-size", 16.5).attr("fill", "#111")
    .text("Log2Ratio");

  // chromosome labels
  g.append("g").selectAll("text").data(CHROM_LABELS).join("text")
    .attr("transform", d => {
      const i = chromIndex.get(d);
      return `translate(${x(chromStart[i] + CHROM_LENGTHS[i] / 2) + 2.5},${bottom + 18.5}) scale(1.12,1)`;
    })
    .attr("text-anchor", "middle").attr("font-size", 20).attr("fill", RED)
    .text(d => d);

  g.append("text")
    .attr("transform", `translate(${p.left},${bottom + 29}) scale(1.08,1)`)
    .attr("text-anchor", "middle").attr("font-size", 20).attr("fill", "#111")
    .text(X_START_LABEL);

  // sample title
  g.append("text")
    .attr("transform", `translate(790,${p.titleY}) scale(1.2,1)`)
    .attr("text-anchor", "middle").attr("font-size", 23).attr("font-weight", "bold")
    .attr("fill", "#111").text(p.title);

  // breakpoint arrows on the first sample
  if (pi === 0) {
    const arrows = g.append("g");
    BREAKPOINTS.forEach(([chr, pos, tip]) => {
      const ax = x(chromStart[chromIndex.get(chr)] + pos);
      const ty = y(tip);
      arrows.append("line").attr("x1", ax).attr("x2", ax)
        .attr("y1", 68).attr("y2", ty - 12)
        .attr("stroke", "#f00").attr("stroke-width", 2);
      arrows.append("path")
        .attr("d", `M${ax - 7.5},${ty - 15}L${ax + 7.5},${ty - 15}L${ax},${ty}Z`)
        .attr("fill", "#f00");
    });
  }
});

svg.append("text").attr("x", 110).attr("y", 45)
  .attr("font-size", 48).attr("fill", "#f00").text("Breakpoints");
</script>
</body>
</html>
